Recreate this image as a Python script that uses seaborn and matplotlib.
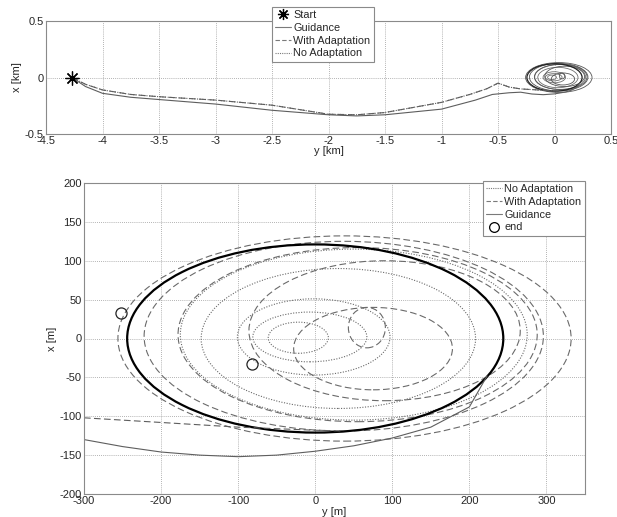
import numpy as np
import pandas as pd
import seaborn as sns
import matplotlib
matplotlib.use("Agg")
import matplotlib.pyplot as plt
from matplotlib.patches import Ellipse
from matplotlib.lines import Line2D
from matplotlib.ticker import FuncFormatter

# ---------------- data ----------------
# top panel (km): approach trajectories (horizontal = y, vertical = x)
guid_app_y_km = [-4.27, -4.15, -4.0, -3.75, -3.5, -3.0, -2.5, -2.0, -1.75, -1.5, -1.0, -0.7, -0.55,
                 -0.4, -0.3, -0.2, -0.1, 0.0, 0.1, 0.15, 0.2, 0.223]
guid_app_x_km = [0.0, -0.08, -0.14, -0.175, -0.195, -0.235, -0.29, -0.33, -0.34, -0.33, -0.28, -0.2, -0.15,
                 -0.135, -0.13, -0.146, -0.152, -0.145, -0.128, -0.112, -0.085, -0.048]
adapt_app_y_km = [-4.27, -4.15, -4.0, -3.75, -3.5, -3.0, -2.5, -2.0, -1.75, -1.5, -1.0, -0.75, -0.6,
                  -0.5, -0.4, -0.3, -0.2, -0.1, 0.0, 0.037]
adapt_app_x_km = [0.0, -0.06, -0.11, -0.15, -0.17, -0.2, -0.245, -0.325, -0.33, -0.31, -0.22, -0.15, -0.1,
                  -0.05, -0.085, -0.101, -0.107, -0.113, -0.118, -0.119]
noadapt_app_y_km = adapt_app_y_km
noadapt_app_x_km = adapt_app_x_km
start_y_km = [-4.27]
start_x_km = [0.0]

# bottom panel (m): approach lines entering from the left
guid_app_y_m = [-300, -250, -200, -150, -100, -50, 0, 50, 100, 150, 200, 223]
guid_app_x_m = [-130, -139, -146, -150, -152, -150, -145, -138, -128, -114, -88, -48]
adapt_app_y_m = [-300, -250, -200, -150, -100, -50, 0, 37]
adapt_app_x_m = [-102, -105, -108, -111, -114, -116, -118, -119]

# closed orbits (m): centre y, centre x, half-width (y), half-height (x)
guid_orbit_cy = [0]
guid_orbit_cx = [0]
guid_orbit_a = [244]
guid_orbit_b = [121]

adapt_orbit_cy = [38, 37, 55, 90, 75, 67]
adapt_orbit_cx = [0, 3, 5, 10, -13, 14]
adapt_orbit_a = [294, 259, 233, 176, 103, 24]
adapt_orbit_b = [132, 122, 112, 90, 53, 26]

noadapt_orbit_cy = [-22, -7, -2, 30, 50]
noadapt_orbit_cx = [1, 2, 2, 0, 5]
noadapt_orbit_a = [39, 74, 99, 178, 225]
noadapt_orbit_b = [20, 32, 49, 90, 110]

end_y_m = [-252, -82]
end_x_m = [33, -33]

top_xticks = [-4.5, -4, -3.5, -3, -2.5, -2, -1.5, -1, -0.5, 0, 0.5]
top_yticks = [-0.5, 0, 0.5]
bot_xticks = [-300, -200, -100, 0, 100, 200, 300]
bot_yticks = [-200, -150, -100, -50, 0, 50, 100, 150, 200]

# ---------------- style ----------------
sns.set_style("white")
plt.rcParams["font.family"] = ["Liberation Sans", "DejaVu Sans"]
plt.rcParams["font.size"] = 8

LINE = "#5e5e5e"
DOT = (0, (1, 1.4))
DASH = (0, (6, 3))
LEG_FS = 7.8

fig = plt.figure(figsize=(6.17, 5.17), dpi=100)
ax1 = fig.add_axes([46 / 617, 1 - 134 / 517, 565 / 617, 113 / 517])
ax2 = fig.add_axes([84 / 617, 1 - 494 / 517, 501 / 617, 311 / 517])

fmt = FuncFormatter(lambda v, p: f"{v + 0:g}")


def style(ax):
    for s in ax.spines.values():
        s.set_color("#8a8a8a")
        s.set_linewidth(0.8)
        s.set_visible(True)
    ax.grid(True, color="#9a9a9a", ls=(0, (1, 1.5)), lw=0.6)
    ax.set_axisbelow(True)
    ax.tick_params(direction="in", length=2, color="#8a8a8a", pad=1.5, labelsize=8)
    ax.xaxis.set_major_formatter(fmt)
    ax.yaxis.set_major_formatter(fmt)


def orbits(ax, cy, cx, a, b, scale, ls, lw, color):
    for yy, xx, aa, bb in zip(cy, cx, a, b):
        ax.add_patch(Ellipse((yy * scale, xx * scale), 2 * aa * scale, 2 * bb * scale,
                             fill=False, ec=color, ls=ls, lw=lw))


def line(ax, y, x, ls, lw=0.8, color=LINE):
    sns.lineplot(x=y, y=x, ax=ax, sort=False, estimator=None, color=color,
                 linestyle=ls, lw=lw, legend=False)


def legend(handles, x_px, y_px):
    lg = fig.legend(handles=handles, loc="upper left", bbox_to_anchor=(x_px / 617, 1 - y_px / 517),
                    frameon=True, fancybox=False, edgecolor="#8a8a8a", framealpha=1,
                    borderpad=0.3, labelspacing=0.25, handlelength=1.45, handletextpad=0.2,
                    borderaxespad=0, fontsize=LEG_FS)
    lg.get_frame().set_linewidth(0.8)
    return lg


# ---------------- top panel ----------------
style(ax1)
line(ax1, noadapt_app_y_km, noadapt_app_x_km, DOT)
line(ax1, adapt_app_y_km, adapt_app_x_km, DASH)
line(ax1, guid_app_y_km, guid_app_x_km, "-")
s = 1e-3
orbits(ax1, noadapt_orbit_cy, noadapt_orbit_cx, noadapt_orbit_a, noadapt_orbit_b, s, "-", 0.6, "#707070")
orbits(ax1, adapt_orbit_cy, adapt_orbit_cx, adapt_orbit_a, adapt_orbit_b, s, "-", 0.6, "#555555")
orbits(ax1, guid_orbit_cy, guid_orbit_cx, guid_orbit_a, guid_orbit_b, s, "-", 0.9, "#222222")
ax1.plot(start_y_km, start_x_km, ls="none", marker=(8, 2, 0), ms=10, mec="black", mew=0.9)
ax1.set_xlim(-4.5, 0.5)
ax1.set_ylim(-0.5, 0.5)
ax1.set_xticks(top_xticks)
ax1.set_yticks(top_yticks)
ax1.set_xlabel("y [km]", labelpad=0)
ax1.set_ylabel("x [km]", labelpad=2)

h_top = [
    Line2D([], [], ls="none", marker=(8, 2, 0), ms=8, mec="black", mew=0.9, label="Start"),
    Line2D([], [], color="#7a7a7a", ls="-", lw=0.8, label="Guidance"),
    Line2D([], [], color="#7a7a7a", ls=(0, (4, 2)), lw=0.8, label="With Adaptation"),
    Line2D([], [], color="#7a7a7a", ls=(0, (1, 1)), lw=0.8, label="No Adaptation"),
]
legend(h_top, 272, 7)

# ---------------- bottom panel ----------------
style(ax2)
orbits(ax2, noadapt_orbit_cy, noadapt_orbit_cx, noadapt_orbit_a, noadapt_orbit_b, 1, DOT, 0.8, "#6a6a6a")
orbits(ax2, adapt_orbit_cy, adapt_orbit_cx, adapt_orbit_a, adapt_orbit_b, 1, DASH, 0.8, "#6a6a6a")
line(ax2, adapt_app_y_m, adapt_app_x_m, DASH)
line(ax2, guid_app_y_m, guid_app_x_m, "-")
orbits(ax2, guid_orbit_cy, guid_orbit_cx, guid_orbit_a, guid_orbit_b, 1, "-", 1.6, "black")
ax2.plot(end_y_m, end_x_m, ls="none", marker="o", ms=8, mfc="none", mec="#222222", mew=0.9)
ax2.set_xlim(-300, 350)
ax2.set_ylim(-200, 200)
ax2.set_xticks(bot_xticks)
ax2.set_yticks(bot_yticks)
ax2.set_xlabel("y [m]", labelpad=1)
ax2.set_ylabel("x [m]", labelpad=2)

h_bot = [
    Line2D([], [], color="#7a7a7a", ls=(0, (1, 1)), lw=0.8, label="No Adaptation"),
    Line2D([], [], color="#7a7a7a", ls=(0, (4, 2)), lw=0.8, label="With Adaptation"),
    Line2D([], [], color="#7a7a7a", ls="-", lw=0.8, label="Guidance"),
    Line2D([], [], ls="none", marker="o", ms=7, mfc="none", mec="black", mew=0.9, label="end"),
]
legend(h_bot, 483, 181)

fig.savefig("out.png", dpi=100)
